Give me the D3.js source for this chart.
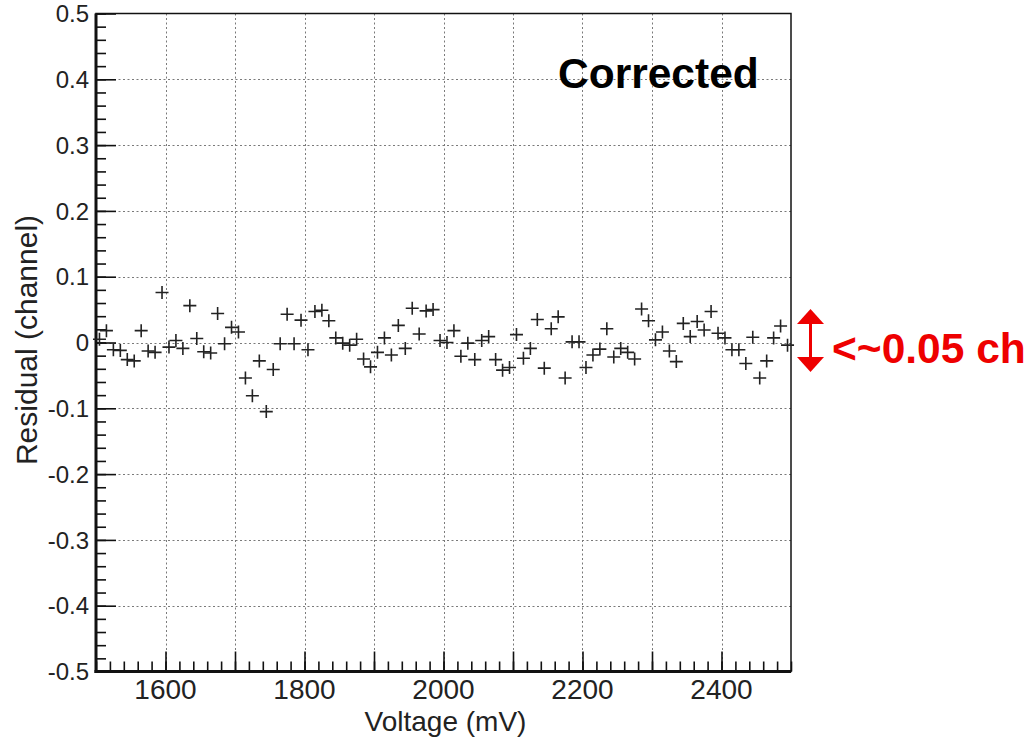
<!DOCTYPE html>
<html>
<head>
<meta charset="utf-8">
<script src="https://cdn.jsdelivr.net/npm/d3@7"></script>
<style>
  html, body { margin: 0; padding: 0; background: #fff; }
  svg { display: block; }
  text { font-family: "Liberation Sans", Arial, Helvetica, sans-serif; }
</style>
</head>
<body>
<svg id="chart" width="1031" height="739"></svg>
<script>
// Scan voltages (mV)
const voltages = [
  1505, 1515, 1525, 1535, 1545, 1555, 1565, 1575, 1585, 1595,
  1605, 1615, 1625, 1635, 1645, 1655, 1665, 1675, 1685, 1695,
  1705, 1715, 1725, 1735, 1745, 1755, 1765, 1775, 1785, 1795,
  1805, 1815, 1825, 1835, 1845, 1855, 1865, 1875, 1885, 1895,
  1905, 1915, 1925, 1935, 1945, 1955, 1965, 1975, 1985, 1995,
  2005, 2015, 2025, 2035, 2045, 2055, 2065, 2075, 2085, 2095,
  2105, 2115, 2125, 2135, 2145, 2155, 2165, 2175, 2185, 2195,
  2205, 2215, 2225, 2235, 2245, 2255, 2265, 2275, 2285, 2295,
  2305, 2315, 2325, 2335, 2345, 2355, 2365, 2375, 2385, 2395,
  2405, 2415, 2425, 2435, 2445, 2455, 2465, 2475, 2485, 2495
];

// Residual after correction (channel)
const residuals = [
   0.005,  0.018, -0.011, -0.012, -0.026, -0.028,  0.018, -0.013, -0.015,  0.076,
  -0.007,  0.003, -0.009,  0.056,  0.006, -0.014, -0.016,  0.044, -0.002,  0.023,
   0.016, -0.054, -0.081, -0.028, -0.105, -0.041, -0.002,  0.043, -0.002,  0.034,
  -0.011,  0.047,  0.049,  0.033,  0.007, -0.001, -0.004,  0.005, -0.025, -0.037,
  -0.015,  0.007, -0.019,  0.026, -0.009,  0.052,  0.013,  0.048,  0.050,  0.003,
   0.000,  0.018, -0.021, -0.001, -0.026,  0.003,  0.009, -0.026, -0.042, -0.038,
   0.012, -0.024, -0.009,  0.035, -0.039,  0.021,  0.039, -0.054,  0.001,  0.001,
  -0.038, -0.019, -0.010,  0.021, -0.022, -0.009, -0.015, -0.025,  0.051,  0.033,
   0.004,  0.016, -0.013, -0.029,  0.029,  0.009,  0.032,  0.019,  0.047,  0.014,
   0.007, -0.011, -0.011, -0.032,  0.008, -0.054, -0.028,  0.007,  0.025, -0.004
];

const xDomain = [1500, 2500];
const yDomain = [-0.5, 0.5];
const xLabelTicks = [1600, 1800, 2000, 2200, 2400];
const xGridTicks = [1600, 1700, 1800, 1900, 2000, 2100, 2200, 2300, 2400];
const yTicks = [-0.5, -0.4, -0.3, -0.2, -0.1, 0, 0.1, 0.2, 0.3, 0.4, 0.5];
const yTickLabels = ["-0.5", "-0.4", "-0.3", "-0.2", "-0.1", "0", "0.1", "0.2", "0.3", "0.4", "0.5"];
const xTitle = "Voltage (mV)";
const yTitle = "Residual (channel)";
const panelLabel = "Corrected";
const noteLabel = "<~0.05 ch";

const svg = d3.select("#chart");
const L = 96, R = 791, T = 13.5, B = 671.5;

const x = d3.scaleLinear().domain(xDomain).range([L, R]);
const y = d3.scaleLinear().domain(yDomain).range([B, T]);

// Dotted grid
const grid = svg.append("g").attr("stroke", "#7a7a7a").attr("stroke-width", 1)
  .attr("stroke-dasharray", "2,2.5");
grid.selectAll("line.gx").data(xGridTicks).join("line")
  .attr("x1", d => Math.round(x(d)) + 0.5).attr("x2", d => Math.round(x(d)) + 0.5)
  .attr("y1", T).attr("y2", B);
grid.selectAll("line.gy").data(yTicks.slice(1, -1)).join("line")
  .attr("y1", d => Math.round(y(d)) + 0.5).attr("y2", d => Math.round(y(d)) + 0.5)
  .attr("x1", L).attr("x2", R);

// Inner ticks: left axis
const yMinor = d3.range(-25, 26).map(i => i / 50);
const yAxisG = svg.append("g").attr("transform", `translate(${L},0)`);
yAxisG.call(d3.axisRight(y).tickValues(yMinor).tickSize(10).tickFormat(""));
yAxisG.append("g").call(d3.axisRight(y).tickValues(yTicks).tickSize(20).tickFormat(""));
yAxisG.selectAll("path.domain").remove();
yAxisG.selectAll("line").attr("stroke", "#111").attr("stroke-width", 1.6);

// Inner ticks: bottom axis
const xMinor = d3.range(1500, 2501, 20);
const xAxisG = svg.append("g").attr("transform", `translate(0,${B})`);
xAxisG.call(d3.axisTop(x).tickValues(xMinor).tickSize(10).tickFormat(""));
xAxisG.append("g").call(d3.axisTop(x).tickValues(xGridTicks).tickSize(20).tickFormat(""));
xAxisG.selectAll("path.domain").remove();
xAxisG.selectAll("line").attr("stroke", "#111").attr("stroke-width", 1.6);

// Frame
svg.append("rect").attr("x", L).attr("y", T).attr("width", R - L).attr("height", B - T)
  .attr("fill", "none").attr("stroke", "#111").attr("stroke-width", 1.5);
svg.append("line").attr("x1", L).attr("x2", L).attr("y1", T).attr("y2", B + 1.5)
  .attr("stroke", "#111").attr("stroke-width", 3);
svg.append("line").attr("x1", L - 1.5).attr("x2", R).attr("y1", B).attr("y2", B)
  .attr("stroke", "#111").attr("stroke-width", 3);

// Tick labels
svg.append("g").selectAll("text").data(yTicks).join("text")
  .attr("x", 89).attr("y", d => y(d)).attr("dy", "0.36em")
  .attr("text-anchor", "end").attr("font-size", 24).attr("fill", "#222")
  .text((d, i) => yTickLabels[i]);
svg.append("g").selectAll("text").data(xLabelTicks).join("text")
  .attr("x", d => x(d)).attr("y", 699)
  .attr("text-anchor", "middle").attr("font-size", 28).attr("fill", "#222")
  .text(d => d);

// Axis titles
svg.append("text").attr("x", (L + R) / 2 + 2).attr("y", 731)
  .attr("text-anchor", "middle").attr("font-size", 28).attr("fill", "#222")
  .text(xTitle);
svg.append("text").attr("transform", "translate(37,340) rotate(-90)")
  .attr("text-anchor", "middle").attr("font-size", 30).attr("fill", "#222")
  .text(yTitle);

// Data markers (+)
const half = 6.5;
const pts = svg.append("g").attr("stroke", "#222").attr("stroke-width", 1.6);
const data = voltages.map((v, i) => ({ v, r: residuals[i] }));
pts.selectAll("path").data(data).join("path")
  .attr("d", d => {
    const cx = x(d.v), cy = y(d.r);
    return `M${cx - half},${cy}H${cx + half}M${cx},${cy - half}V${cy + half}`;
  });

// Panel label
svg.append("text").attr("x", 558).attr("y", 88)
  .attr("font-size", 42.5).attr("font-weight", "bold").attr("fill", "#000")
  .text(panelLabel);

// Spread indicator
const ax = 810.5;
const note = svg.append("g").attr("fill", "#ee0000").attr("stroke", "none");
note.append("line").attr("x1", ax).attr("x2", ax).attr("y1", 320).attr("y2", 361)
  .attr("stroke", "#ee0000").attr("stroke-width", 3);
note.append("path").attr("d", `M${ax},309L${ax - 13.5},324L${ax + 13.5},324Z`);
note.append("path").attr("d", `M${ax},372L${ax - 13.5},357L${ax + 13.5},357Z`);
note.append("text").attr("x", 832).attr("y", 363)
  .attr("font-size", 42.5).attr("font-weight", "bold")
  .text(noteLabel);
</script>
</body>
</html>
